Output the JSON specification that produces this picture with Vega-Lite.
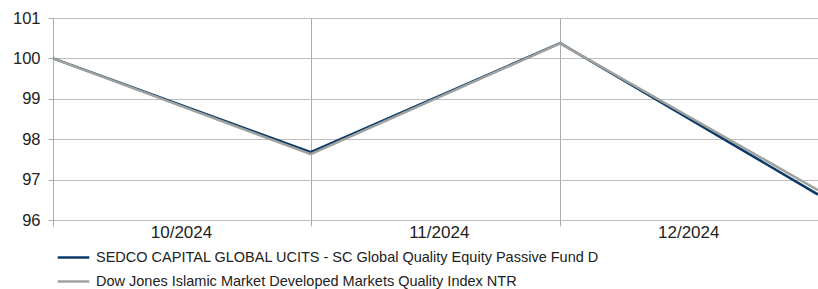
{
  "$schema": "https://vega.github.io/schema/vega-lite/v6.json",
  "autosize": {"type": "none"},
  "padding": {"left": 53, "top": 18, "right": 0, "bottom": 69},
  "width": 765,
  "height": 202,
  "config": {
    "view": {"stroke": null},
    "font": "Liberation Sans"
  },
  "data": {
    "values": [
      {"date": "2024-09-30", "series": "SEDCO CAPITAL GLOBAL UCITS - SC Global Quality Equity Passive Fund D", "value": 100.0},
      {"date": "2024-10-31", "series": "SEDCO CAPITAL GLOBAL UCITS - SC Global Quality Equity Passive Fund D", "value": 97.68},
      {"date": "2024-11-30", "series": "SEDCO CAPITAL GLOBAL UCITS - SC Global Quality Equity Passive Fund D", "value": 100.38},
      {"date": "2024-12-31", "series": "SEDCO CAPITAL GLOBAL UCITS - SC Global Quality Equity Passive Fund D", "value": 96.63},
      {"date": "2024-09-30", "series": "Dow Jones Islamic Market Developed Markets Quality Index NTR", "value": 100.0},
      {"date": "2024-10-31", "series": "Dow Jones Islamic Market Developed Markets Quality Index NTR", "value": 97.63},
      {"date": "2024-11-30", "series": "Dow Jones Islamic Market Developed Markets Quality Index NTR", "value": 100.37},
      {"date": "2024-12-31", "series": "Dow Jones Islamic Market Developed Markets Quality Index NTR", "value": 96.74}
    ]
  },
  "mark": {"type": "line", "strokeWidth": 2.5, "clip": false},
  "encoding": {
    "x": {
      "field": "date",
      "type": "temporal",
      "scale": {"type": "utc", "nice": false,
        "domain": [{"year": 2024, "month": 9, "date": 30, "utc": true}, {"year": 2024, "month": 12, "date": 31, "utc": true}]},
      "axis": {
        "title": null,
        "values": [
          {"year": 2024, "month": 9, "date": 30, "utc": true},
          {"year": 2024, "month": 10, "date": 31, "utc": true},
          {"year": 2024, "month": 11, "date": 30, "utc": true},
          {"year": 2024, "month": 12, "date": 31, "utc": true}
        ],
        "labelExpr": "utcmonth(datum.value) == 11 ? '' : utcFormat(datum.value + 86400000, '%m/%Y')",
        "labelOffset": 128,
        "labelAlign": "center",
        "labelOverlap": false,
        "labelBound": false,
        "labelFlush": false,
        "labelFontSize": 17,
        "labelColor": "#222222",
        "labelPadding": -2,
        "grid": true,
        "gridColor": "#ababab",
        "gridWidth": 1,
        "ticks": true,
        "tickColor": "#ababab",
        "tickSize": 6,
        "domain": false
      }
    },
    "y": {
      "field": "value",
      "type": "quantitative",
      "scale": {"domain": [96, 101], "nice": false, "zero": false},
      "axis": {
        "title": null,
        "values": [96, 97, 98, 99, 100, 101],
        "format": "d",
        "labelFontSize": 16.5,
        "labelColor": "#222222",
        "labelPadding": 8,
        "grid": true,
        "gridColor": "#bdbdbd",
        "gridWidth": 1,
        "ticks": true,
        "tickSize": 5,
        "tickColor": "#ababab",
        "domain": true,
        "domainColor": "#ababab"
      }
    },
    "color": {
      "field": "series",
      "type": "nominal",
      "scale": {
        "domain": ["SEDCO CAPITAL GLOBAL UCITS - SC Global Quality Equity Passive Fund D", "Dow Jones Islamic Market Developed Markets Quality Index NTR"],
        "range": ["#0c3a68", "#9fa39f"]
      },
      "legend": {
        "title": null,
        "orient": "none",
        "legendX": 3,
        "legendY": 222,
        "direction": "vertical",
        "symbolType": "stroke",
        "symbolStrokeWidth": 2.5,
        "symbolSize": 1000,
        "labelFontSize": 14.5,
        "labelColor": "#222222",
        "labelOffset": 5,
        "labelLimit": 700,
        "rowPadding": -9
      }
    },
    "order": {"field": "series", "sort": "descending"}
  }
}
